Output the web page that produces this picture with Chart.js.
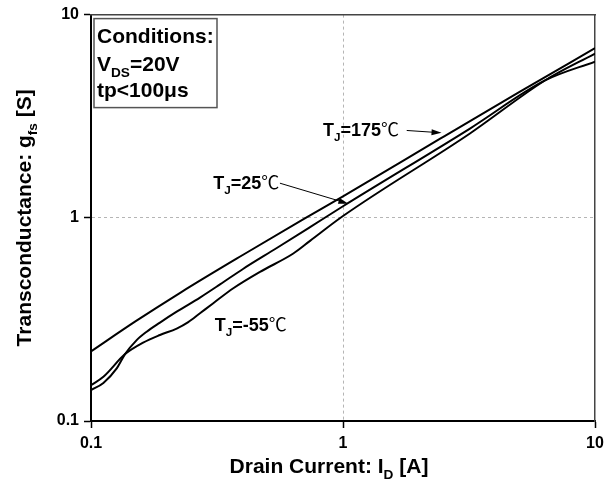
<!DOCTYPE html>
<html>
<head>
<meta charset="utf-8">
<script src="https://cdn.jsdelivr.net/npm/chart.js@4"></script>
<style>
  html, body { margin: 0; padding: 0; background: #fff; }
  #wrap { width: 611px; height: 488px; }
</style>
</head>
<body>
<div id="wrap"><canvas id="gfs"></canvas></div>
<script>
// Drain current I_D [A] vs transconductance g_fs [S]
const ID_175  = [0.1, 0.15, 0.2275, 0.4, 0.7, 1.0, 2.43, 5, 10];
const GFS_175 = [0.22, 0.309, 0.43, 0.656, 0.987, 1.276, 2.45, 4.15, 6.84];

const ID_25  = [0.1, 0.112, 0.1265, 0.1365, 0.1518, 0.1663, 0.1878, 0.2188, 0.2707, 0.325, 0.401, 0.546, 0.74, 1.0, 3.19, 6.33, 10];
const GFS_25 = [0.142, 0.154, 0.1815, 0.2134, 0.25, 0.275, 0.305, 0.345, 0.405, 0.47, 0.56, 0.71, 0.9, 1.14, 2.75, 4.74, 5.87];

const ID_M55  = [0.1, 0.112, 0.1365, 0.161, 0.1878, 0.2188, 0.2432, 0.2707, 0.3057, 0.367, 0.4685, 0.635, 0.74, 1.0, 3.19, 6.33, 10];
const GFS_M55 = [0.15, 0.165, 0.2134, 0.243, 0.265, 0.285, 0.3066, 0.339, 0.38, 0.45, 0.542, 0.667, 0.77, 1.02, 2.6, 4.74, 6.43];

const TICKS = [0.1, 1, 10];

// curve labels: temperature, anchor in data units, optional arrow (data units)
const LABELS = [
    { temp: '175', x: 0.833, y: 2.54, arrow: [1.79, 2.69, 2.46, 2.62] },
    { temp: '25',  x: 0.3057, y: 1.39, arrow: [0.562, 1.48, 1.05, 1.174] },
    { temp: '-55', x: 0.31, y: 0.278, arrow: null }
];

const FONT = '"Liberation Sans", Arial, sans-serif';

const pairs = (xs, ys) => xs.map((x, i) => ({ x: x, y: ys[i] }));

// draw text runs, some of them as subscripts
function richText(ctx, runs, x, y, size, align) {
    let total = 0;
    runs.forEach(r => {
        const s = r.sub ? size * 0.65 : size;
        ctx.font = (r.normal ? '' : 'bold ') + s + 'px ' + (r.family || FONT);
        r.w = ctx.measureText(r.t).width;
        total += r.w;
    });
    let cx = align === 'center' ? x - total / 2 : x;
    runs.forEach(r => {
        const s = r.sub ? size * 0.65 : size;
        ctx.font = (r.normal ? '' : 'bold ') + s + 'px ' + (r.family || FONT);
        ctx.fillText(r.t, cx, r.sub ? y + size * 0.3 : y);
        cx += r.w;
    });
    return total;
}

function arrow(ctx, x1, y1, x2, y2) {
    const a = Math.atan2(y2 - y1, x2 - x1);
    ctx.beginPath();
    ctx.moveTo(x1, y1);
    ctx.lineTo(x2 - 6 * Math.cos(a), y2 - 6 * Math.sin(a));
    ctx.lineWidth = 1;
    ctx.strokeStyle = '#000';
    ctx.stroke();
    ctx.beginPath();
    ctx.moveTo(x2, y2);
    ctx.lineTo(x2 - 10 * Math.cos(a) + 3 * Math.sin(a), y2 - 10 * Math.sin(a) - 3 * Math.cos(a));
    ctx.lineTo(x2 - 10 * Math.cos(a) - 3 * Math.sin(a), y2 - 10 * Math.sin(a) + 3 * Math.cos(a));
    ctx.closePath();
    ctx.fillStyle = '#000';
    ctx.fill();
}

const annotations = {
    id: 'annotations',
    afterDraw(chart) {
        const ctx = chart.ctx;
        const xs = chart.scales.x, ys = chart.scales.y;
        const area = chart.chartArea;
        ctx.save();
        ctx.fillStyle = '#000';
        ctx.textBaseline = 'alphabetic';

        // axis titles
        richText(ctx, [{ t: 'Drain Current: I' }, { t: 'D', sub: true }, { t: ' [A]' }],
            (area.left + area.right) / 2 - 14, 473, 21, 'center');
        ctx.save();
        ctx.translate(31, (area.top + area.bottom) / 2);
        ctx.rotate(-Math.PI / 2);
        richText(ctx, [{ t: 'Transconductance: g' }, { t: 'fs', sub: true }, { t: ' [S]' }],
            0, 0, 21, 'center');
        ctx.restore();

        // conditions box
        ctx.strokeStyle = '#555';
        ctx.lineWidth = 1.5;
        ctx.strokeRect(area.left + 3, area.top + 4, 123, 89);
        const tx = area.left + 6;
        richText(ctx, [{ t: 'Conditions:' }], tx, area.top + 28, 21);
        richText(ctx, [{ t: 'V' }, { t: 'DS', sub: true }, { t: '=20V' }], tx, area.top + 56, 21);
        richText(ctx, [{ t: 'tp<100\u03bcs' }], tx, area.top + 82, 21);

        // curve labels
        LABELS.forEach(l => {
            const px = xs.getPixelForValue(l.x), py = ys.getPixelForValue(l.y);
            ctx.fillStyle = '#000';
            richText(ctx, [{ t: 'T' }, { t: 'J', sub: true }, { t: '=' + l.temp },
                { t: '\u2103', normal: true, family: '"Noto Sans CJK SC", "DejaVu Sans", sans-serif' }],
                px, py, 18);
            if (l.arrow) {
                arrow(ctx, xs.getPixelForValue(l.arrow[0]), ys.getPixelForValue(l.arrow[1]),
                    xs.getPixelForValue(l.arrow[2]), ys.getPixelForValue(l.arrow[3]));
            }
        });
        ctx.restore();
    }
};

const curve = (data) => ({
    data: data,
    borderColor: '#000',
    borderWidth: 2,
    pointRadius: 0,
    fill: false,
    cubicInterpolationMode: 'monotone'
});

const logAxis = (pos, showTicks, size) => ({
    type: 'logarithmic',
    position: pos,
    min: 0.1,
    max: 10,
    afterBuildTicks: s => { s.ticks = TICKS.map(v => ({ value: v })); },
    afterFit: s => {
        if (pos === 'left' || pos === 'right') s.width = size; else s.height = size;
    },
    grid: {
        display: showTicks,
        drawTicks: showTicks,
        tickLength: 7,
        tickColor: '#000',
        tickWidth: 1.5,
        lineWidth: 1,
        color: ctx => (ctx.tick && ctx.tick.value === 1) ? '#b5b5b5' : 'rgba(0,0,0,0)'
    },
    border: {
        display: true,
        color: showTicks ? '#000' : '#444',
        width: showTicks ? 2 : 1.5,
        dash: [3, 3]
    },
    ticks: {
        display: showTicks,
        color: '#000',
        padding: pos === 'left' ? 5 : 6,
        autoSkip: false,
        maxRotation: 0,
        font: { family: FONT, size: 16, weight: 'bold' },
        callback: v => String(v)
    }
});

window.onload = () => {
    new Chart(document.getElementById('gfs'), {
        type: 'line',
        data: {
            datasets: [
                curve(pairs(ID_175, GFS_175)),
                curve(pairs(ID_25, GFS_25)),
                curve(pairs(ID_M55, GFS_M55))
            ]
        },
        options: {
            responsive: true,
            maintainAspectRatio: false,
            animation: false,
            layout: { padding: { top: 14, right: 16, left: 0, bottom: 0 } },
            plugins: { legend: { display: false }, tooltip: { enabled: false } },
            scales: {
                x: logAxis('bottom', true, 67),
                y: logAxis('left', true, 91),
                x2: logAxis('top', false, 0),
                y2: logAxis('right', false, 0)
            }
        },
        plugins: [annotations]
    });
};
</script>
</body>
</html>
